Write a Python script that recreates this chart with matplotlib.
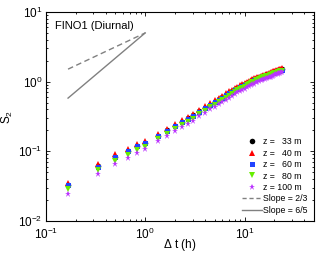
import numpy as np
import matplotlib
matplotlib.use("Agg")
import matplotlib.pyplot as plt
from matplotlib.lines import Line2D

plt.rcParams['font.family'] = ['Liberation Sans', 'DejaVu Sans']
plt.rcParams['mathtext.fontset'] = 'custom'
plt.rcParams['mathtext.rm'] = 'Liberation Sans'
plt.rcParams['mathtext.it'] = 'Liberation Sans:italic'
plt.rcParams['mathtext.bf'] = 'Liberation Sans:bold'

# time lags (hours)
dt = [0.167, 0.333, 0.5, 0.667, 0.833, 1.0, 1.333, 1.667, 2.0, 2.333, 2.667, 3.0,
      3.5, 4.0, 4.5, 5.0, 5.5, 6.0, 6.5, 7.0, 7.5, 8.0,
      8.5, 9.0, 9.5, 10.0, 10.5, 11.0, 11.5, 12.0, 12.5,
      13.0, 13.5, 14.0, 14.5, 15.0, 15.5, 16.0, 16.5, 17.0, 17.5, 18.0, 18.5, 19.0, 19.5, 20.0,
      20.5, 21.0, 21.5, 22.0, 22.5, 23.0, 23.5, 24.0]

# structure function S2 at each height
s2_33 = [0.033, 0.0617, 0.084, 0.102, 0.120, 0.133, 0.168, 0.200, 0.234, 0.266, 0.299, 0.327,
         0.375, 0.422, 0.468, 0.513, 0.557, 0.603, 0.647, 0.690, 0.733, 0.776,
         0.811, 0.846, 0.881, 0.915, 0.948, 0.981, 1.014, 1.047, 1.079,
         1.102, 1.124, 1.146, 1.167, 1.188, 1.208, 1.228, 1.248, 1.268, 1.288, 1.306, 1.325, 1.343, 1.361, 1.380,
         1.396, 1.413, 1.429, 1.445, 1.461, 1.476, 1.492, 1.507]
s2_40 = [0.0353, 0.066, 0.090, 0.109, 0.128, 0.142, 0.178, 0.212, 0.247, 0.280, 0.314, 0.343,
         0.394, 0.443, 0.491, 0.538, 0.585, 0.632, 0.678, 0.723, 0.768, 0.812,
         0.843, 0.880, 0.916, 0.952, 0.986, 1.020, 1.055, 1.089, 1.122,
         1.135, 1.158, 1.180, 1.202, 1.224, 1.244, 1.265, 1.285, 1.306, 1.327, 1.345, 1.365, 1.383, 1.402, 1.421,
         1.438, 1.455, 1.472, 1.488, 1.505, 1.520, 1.537, 1.552]
s2_60 = [0.0323, 0.0605, 0.0823, 0.100, 0.118, 0.130, 0.165, 0.196, 0.229, 0.261, 0.293, 0.320,
         0.368, 0.414, 0.459, 0.503, 0.546, 0.591, 0.634, 0.676, 0.718, 0.760,
         0.795, 0.829, 0.863, 0.897, 0.929, 0.961, 0.994, 1.026, 1.057,
         1.080, 1.102, 1.123, 1.144, 1.164, 1.184, 1.203, 1.223, 1.243, 1.262, 1.280, 1.299, 1.316, 1.334, 1.352,
         1.368, 1.385, 1.400, 1.416, 1.432, 1.446, 1.462, 1.477]
s2_80 = [0.0287, 0.0537, 0.0731, 0.0887, 0.104, 0.116, 0.150, 0.178, 0.208, 0.237, 0.266, 0.291,
         0.341, 0.384, 0.426, 0.467, 0.507, 0.549, 0.589, 0.628, 0.667, 0.706,
         0.754, 0.787, 0.819, 0.851, 0.882, 0.912, 0.943, 0.974, 1.003,
         1.047, 1.068, 1.089, 1.109, 1.129, 1.148, 1.167, 1.186, 1.205, 1.224, 1.241, 1.259, 1.276, 1.293, 1.311,
         1.326, 1.342, 1.358, 1.373, 1.388, 1.402, 1.417, 1.432]
s2_100 = [0.0244, 0.0469, 0.0655, 0.0806, 0.096, 0.109, 0.139, 0.166, 0.194, 0.221, 0.248, 0.271,
          0.319, 0.359, 0.398, 0.436, 0.473, 0.513, 0.550, 0.587, 0.623, 0.660,
          0.706, 0.736, 0.766, 0.796, 0.825, 0.853, 0.882, 0.911, 0.939,
          0.981, 1.000, 1.020, 1.039, 1.057, 1.075, 1.093, 1.111, 1.129, 1.146, 1.162, 1.179, 1.195, 1.211, 1.228,
          1.270, 1.286, 1.300, 1.315, 1.330, 1.343, 1.358, 1.371]

# reference slope lines
slope_x = [0.167, 1.0]
slope_23 = [1.51, 5.0]
slope_65 = [0.58, 5.0]

fig = plt.figure(figsize=(3.19, 2.54), dpi=100)
ax = fig.add_axes([0.144, 0.130, 0.840, 0.823])

series = [
    (s2_33, 'o', 'black', 4.0, 'z =   33 m'),
    (s2_40, '^', '#ff0000', 4.2, 'z =   40 m'),
    (s2_60, 's', '#2244ff', 3.6, 'z =   60 m'),
    (s2_80, 'v', '#66ee00', 4.2, 'z =   80 m'),
    (s2_100, '*', '#bb33ff', 5.0, 'z = 100 m'),
]
handles = []
for vals, mk, col, ms, lab in series:
    ax.plot(dt, vals, linestyle='none', marker=mk, color=col, markersize=ms, markeredgewidth=0)
    handles.append(Line2D([], [], linestyle='none', marker=mk, color=col, markersize=ms,
                          markeredgewidth=0, label=lab))

ax.plot(slope_x, slope_23, color='#808080', linestyle=(0, (4, 2.5)), linewidth=1.0)
ax.plot(slope_x, slope_65, color='#808080', linestyle='-', linewidth=1.0)
handles.append(Line2D([], [], color='#808080', linestyle=(0, (3, 2)), linewidth=1.0, label='Slope = 2/3'))
handles.append(Line2D([], [], color='#808080', linestyle='-', linewidth=1.0, label='Slope = 6/5'))

ax.set_xscale('log')
ax.set_yscale('log')
ax.set_xlim(0.1, 50)
ax.set_ylim(0.01, 10)

ax.tick_params(which='both', direction='in', top=True, right=True, labelsize=8.5, width=0.6)
ax.tick_params(which='major', length=3, pad=2.5)
ax.tick_params(which='minor', length=1.5)
ax.tick_params(axis='x', which='major', pad=4.5)
for sp in ax.spines.values():
    sp.set_linewidth(0.8)

ax.set_xlabel(r'$\Delta$ t (h)', fontsize=8.5)
ax.xaxis.set_label_coords(0.5, -0.078)
ax.set_ylabel(r'S$_2$', fontsize=8.5, labelpad=2)
ax.text(0.035, 0.955, 'FINO1 (Diurnal)', transform=ax.transAxes, fontsize=8, va='top', ha='left')

leg = ax.legend(handles=handles, loc='lower right', fontsize=6.3, frameon=False,
                labelspacing=0.28, handlelength=2.2, handletextpad=0.2,
                borderaxespad=0.3, numpoints=1)

fig.savefig('out.png', dpi=100)
